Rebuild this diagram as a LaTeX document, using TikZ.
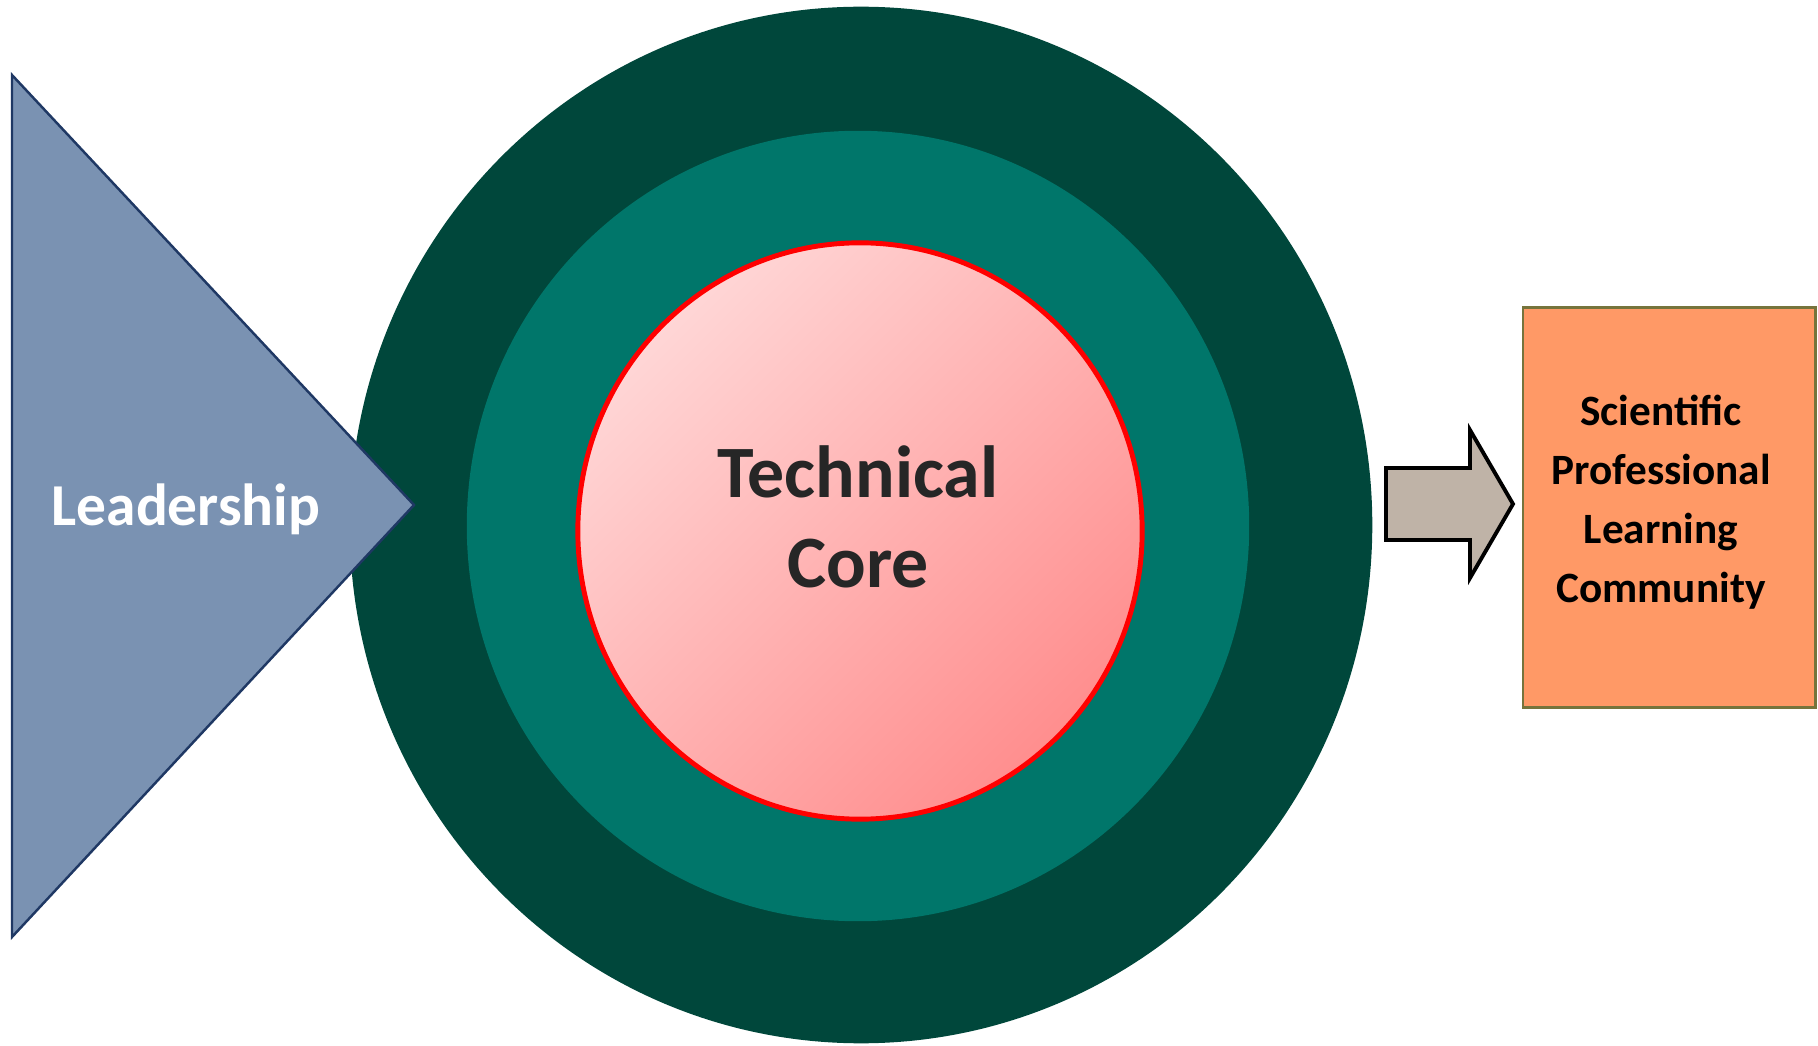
\documentclass[tikz,border=0pt]{standalone}
\usepackage{fontspec}
\setmainfont{Carlito}
\usepackage{xcolor}
\usetikzlibrary{shapes.geometric}
\definecolor{ringdark}{HTML}{00473B}
\definecolor{ringmid}{HTML}{00766A}
\definecolor{corelight}{HTML}{FFD6D6}
\definecolor{coredark}{HTML}{FF8E8E}
\definecolor{coretext}{HTML}{262626}
\definecolor{leadfill}{HTML}{7A92B2}
\definecolor{leadline}{HTML}{1F3864}
\definecolor{arrowfill}{HTML}{BFB3A7}
\definecolor{plcfill}{HTML}{FF9966}
\definecolor{plcline}{HTML}{76743C}
\tikzset{
ring/.style = {ellipse, inner sep=0pt, draw=none},
labeltext/.style = {font=\bfseries, align=center, inner sep=0pt},
plcbox/.style = {rectangle, draw=plcline, fill=plcfill, line width=0.8pt, inner sep=0pt},
}

\begin{document}
\begin{tikzpicture}[x=0.01cm, y=-0.01cm]
    \useasboundingbox (0,0) rectangle (1818,1046);

    % rings round the core
    \node[ring, fill=ringdark, minimum width=10.22cm, minimum height=10.36cm] (outer) at (861,525) {};
    \node[ring, fill=ringmid, minimum width=7.82cm, minimum height=7.90cm] (middle) at (858,526) {};
    \node[ring, draw=red, line width=1.4pt, top color=corelight, bottom color=coredark, shading angle=45,
          minimum width=5.64cm, minimum height=5.76cm] (core) at (860,531) {};
    \node[labeltext, text=coretext, font=\fontsize{21}{25.6}\selectfont\bfseries] (coretxt) at (858,517) {Technical\\Core};

    % leadership wedge
    \draw[fill=leadfill, draw=leadline, line width=0.7pt, line join=miter] (12,75) -- (414,505) -- (12,937) -- cycle;
    \node[labeltext, text=white, font=\fontsize{16.9}{20}\selectfont\bfseries] (lead) at (186,509) {Leadership};

    % block arrow
    \draw[fill=arrowfill, draw=black, line width=1.1pt, line join=miter]
        (1386,468) -- (1470,468) -- (1470,430) -- (1513,504) -- (1470,578) -- (1470,540) -- (1386,540) -- cycle;

    \node[plcbox, minimum width=2.92cm, minimum height=3.99cm] (plc) at (1669,507.5) {};
    \node[labeltext, font=\fontsize{12.3}{16.8}\selectfont\bfseries] (plctxt) at (1661,502)
        {Scientific\\Professional\\Learning\\Community};

\end{tikzpicture}
\end{document}
